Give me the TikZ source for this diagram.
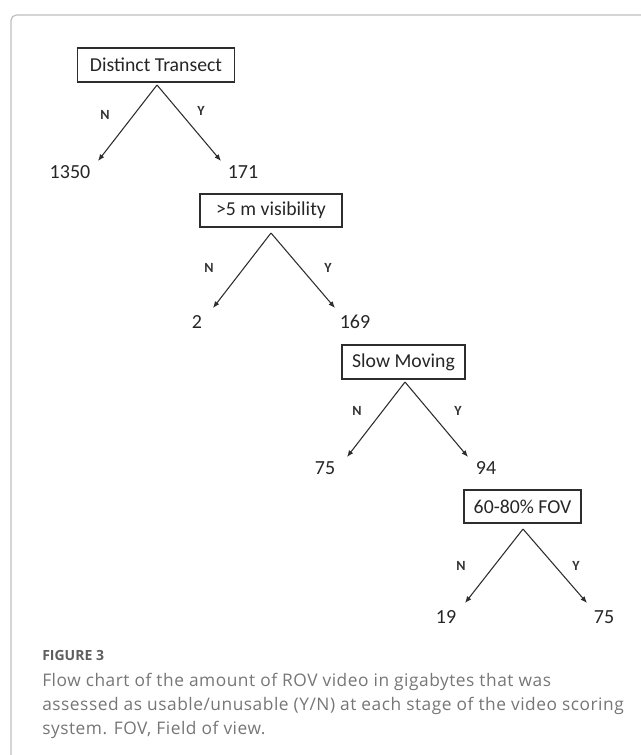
\documentclass[tikz,border=0pt]{standalone}
\usepackage{fontspec}
\setmainfont{Carlito}
\newfontfamily\capfont[LetterSpace=3]{Open Sans}
\newfontfamily\capfontbf{Open Sans}
\usetikzlibrary{arrows.meta, positioning}
\definecolor{framegray}{RGB}{190,190,190}
\definecolor{capgray}{RGB}{118,118,118}
\definecolor{inkgray}{RGB}{45,45,45}
\tikzset{
  test/.style={draw=inkgray, line width=1.1pt, inner sep=0pt, text=black!85,
    font=\fontsize{14.8}{16}\selectfont},
  count/.style={inner sep=0pt, text=black!85, font=\fontsize{15}{16}\selectfont},
  yn/.style={inner sep=0pt, text=black!80, font=\fontsize{10.5}{12}\selectfont\bfseries},
  branch/.style={->, draw=inkgray, line width=0.8pt},
}

\begin{document}
\begin{tikzpicture}[x=0.75pt, y=-0.75pt, >={Latex[length=5pt,width=4pt]}]
  \useasboundingbox (0,0) rectangle (641,755);
  % Cadre de la figure
  \draw[framegray, line width=0.9pt, rounded corners=4pt] (11,770) -- (11,15) -- (660,15);
  % Critère 1 : transect distinct
  \node[test, minimum width=117.8pt, minimum height=25.5pt] (transect) at (156,65) {Distinct Transect};
  \coordinate (t1) at (157,85);
  \coordinate (n1) at (98,161);
  \coordinate (y1) at (221,161);
  \draw[branch] (t1) -- (n1);
  \draw[branch] (t1) -- (y1);
  \node[yn] (labn1) at (105,115) {N};
  \node[yn] (laby1) at (201,111) {Y};
  \node[count] (c1350) at (70,172) {1350};
  \node[count] (c171) at (243,172) {171};
  % Critère 2 : visibilité
  \node[test, minimum width=106.5pt, minimum height=24.75pt] (visib) at (271,210.5) {>5 m visibility};
  \coordinate (t2) at (271,233);
  \coordinate (n2) at (213,308);
  \coordinate (y2) at (335,308);
  \draw[branch] (t2) -- (n2);
  \draw[branch] (t2) -- (y2);
  \node[yn] (labn2) at (209,268) {N};
  \node[yn] (laby2) at (328,268) {Y};
  \node[count] (c2) at (197,322) {2};
  \node[count] (c169) at (355,322) {169};
  % Critère 3 : déplacement lent
  \node[test, minimum width=92.25pt, minimum height=25.5pt] (slow) at (403.5,362) {Slow Moving};
  \coordinate (t3) at (405,382);
  \coordinate (n3) at (347,457);
  \coordinate (y3) at (468,457);
  \draw[branch] (t3) -- (n3);
  \draw[branch] (t3) -- (y3);
  \node[yn] (labn3) at (357,411) {N};
  \node[yn] (laby3) at (458,411) {Y};
  \node[count] (c75a) at (325,468) {75};
  \node[count] (c94) at (486,468) {94};
  % Critère 4 : champ de vision
  \node[test, minimum width=87.75pt, minimum height=24.75pt] (fov) at (522.5,506.5) {60-80\% FOV};
  \coordinate (t4) at (523,529);
  \coordinate (n4) at (465,603);
  \coordinate (y4) at (587,603);
  \draw[branch] (t4) -- (n4);
  \draw[branch] (t4) -- (y4);
  \node[yn] (labn4) at (461,566) {N};
  \node[yn] (laby4) at (576,566) {Y};
  \node[count] (c19) at (446,617) {19};
  \node[count] (c75b) at (604,617) {75};
  % Légende
  \node[anchor=base west, inner sep=0pt, text=capgray!80!black, font=\capfontbf\fontsize{10.5}{12}\selectfont\bfseries] (figlabel) at (42,660) {FIGURE 3};
  \node[anchor=north west, align=left, inner sep=0pt, text=capgray, font=\capfont\fontsize{13}{18}\selectfont] (caption) at (42,673)
    {Flow chart of the amount of ROV video in gigabytes that was\\assessed as usable/unusable (Y/N) at each stage of the video scoring\\system. FOV, Field of view.};
\end{tikzpicture}
\end{document}
